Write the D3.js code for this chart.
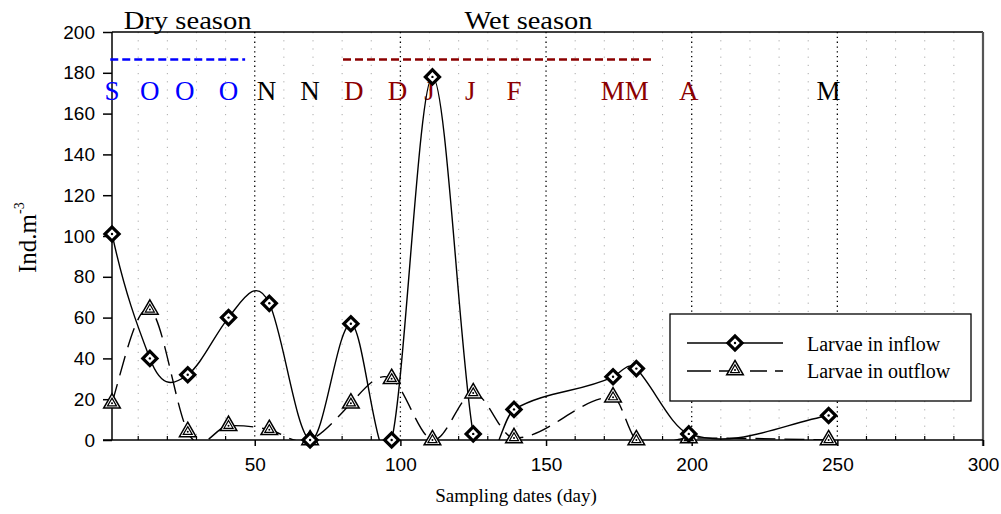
<!DOCTYPE html>
<html><head><meta charset="utf-8">
<script src="https://cdn.jsdelivr.net/npm/d3@7"></script>
<style>body{margin:0;background:#fff}svg{display:block}</style>
</head><body>
<svg id="c" width="1001" height="514"></svg>
<script>
// ---- data ----
const days = [1,14,27,41,55,69,83,97,111,125,139,173,181,199,247];
const inflow = [101,40,32,60,67,0,57,0,178,3,15,31,35,3,12];
const outflow = [18,64,4,7,5,0,18,30,0,23,1,21,0,1,0];
const monthLabels = ["S","O","O","O","N","N","D","D","J","J","F","MM","A","M"];
const monthDays = [1,14,26,41,54,69,84,99,110,124,139,177,199,247];
const monthColors = ["#0000ff","#0000ff","#0000ff","#0000ff","#000","#000","#8b0000","#8b0000","#8b0000","#8b0000","#8b0000","#8b0000","#8b0000","#000"];
const seasons = [
  {name:"Dry season", from:0.4, to:46.7, level:186.5, color:"#0000ff", labelDay:5},
  {name:"Wet season", from:80.3, to:186.4, level:186.5, color:"#8b0000", labelDay:122}
];
const yTicks = [0,20,40,60,80,100,120,140,160,180,200];
const xTicks = [50,100,150,200,250,300];
const xMinor = d3.range(10,300,10);

const svg = d3.select("#c");
const L=112,R=983,T=32,B=440;
const x = d3.scaleLinear().domain([1,300]).range([L,R]);
const y = d3.scaleLinear().domain([0,200]).range([B,T]);

// cubic Hermite spline in x, tangents from neighbouring secants
function splineX(context){
  let xs=[],ys=[];
  const k=1.4;
  return {
    areaStart(){},areaEnd(){},
    lineStart(){xs=[];ys=[];},
    point(a,b){xs.push(+a);ys.push(+b);},
    lineEnd(){
      const n=xs.length; if(!n) return;
      context.moveTo(xs[0],ys[0]);
      if(n<3){for(let i=1;i<n;i++)context.lineTo(xs[i],ys[i]);return;}
      const m=[];
      for(let i=0;i<n;i++){
        const i0=Math.max(0,i-1), i1=Math.min(n-1,i+1);
        m.push(k*(ys[i1]-ys[i0])/(xs[i1]-xs[i0]));
      }
      for(let i=0;i<n-1;i++){
        const hh=xs[i+1]-xs[i];
        context.bezierCurveTo(xs[i]+hh/3,ys[i]+m[i]*hh/3,xs[i+1]-hh/3,ys[i+1]-m[i+1]*hh/3,xs[i+1],ys[i+1]);
      }
    }
  };
}

svg.append("defs").append("clipPath").attr("id","clip").append("rect")
  .attr("x",L).attr("y",T).attr("width",R-L).attr("height",B-T);

// grid
svg.append("g").selectAll("line").data(xMinor.filter(d=>d%50!==0)).join("line")
  .attr("x1",d=>x(d)).attr("x2",d=>x(d)).attr("y1",T).attr("y2",B)
  .attr("stroke","#aaa").attr("stroke-width",1).attr("stroke-dasharray","1.2,7");
svg.append("g").selectAll("line").data([50,100,150,200,250]).join("line")
  .attr("x1",d=>x(d)).attr("x2",d=>x(d)).attr("y1",T).attr("y2",B)
  .attr("stroke","#000").attr("stroke-width",1.3).attr("stroke-dasharray","1.3,3.5");

// frame
svg.append("line").attr("x1",L).attr("x2",R).attr("y1",T).attr("y2",T).attr("stroke","#000").attr("stroke-width",1.5);
svg.append("line").attr("x1",R).attr("x2",R).attr("y1",T).attr("y2",B+6).attr("stroke","#555").attr("stroke-width",2.2);

// axes
const yAxis = d3.axisLeft(y).tickValues(yTicks).tickSize(9).tickPadding(8);
const gy = svg.append("g").attr("transform",`translate(${L},0)`).call(yAxis);
gy.select(".domain").attr("stroke-width",1.5).attr("d",`M0,${T}V${B}`);
gy.selectAll(".tick line").attr("stroke-width",1.5);
gy.selectAll("text").attr("font-family","Liberation Sans, Arial").attr("font-size",19).attr("fill","#000");

const gx = svg.append("g").attr("transform",`translate(0,${B})`);
gx.append("line").attr("x1",L-9).attr("x2",R).attr("stroke","#000").attr("stroke-width",1.5);
gx.selectAll(".minor").data(xMinor.filter(d=>d%50!==0)).join("line").attr("class","minor")
  .attr("x1",d=>x(d)).attr("x2",d=>x(d)).attr("y1",0).attr("y2",-4).attr("stroke","#000").attr("stroke-width",1.2);
const xAxis = d3.axisBottom(x).tickValues(xTicks).tickSize(6).tickPadding(12);
const gxa = gx.append("g").call(xAxis);
gxa.select(".domain").remove();
gxa.selectAll(".tick line").attr("stroke-width",1.5);
gxa.selectAll("text").attr("font-family","Liberation Sans, Arial").attr("font-size",19).attr("fill","#000");

// titles
svg.append("text").attr("x",x(150)-30).attr("y",502).attr("text-anchor","middle")
  .attr("font-family","Liberation Serif, serif").attr("font-size",19).text("Sampling dates (day)");
const yt = svg.append("text").attr("transform","translate(36,273) rotate(-90)")
  .attr("font-family","Liberation Serif, serif").attr("font-size",25);
yt.append("tspan").text("Ind.m");
yt.append("tspan").attr("font-size",14).attr("dy",-12).text("-3");

// seasons
seasons.forEach(s=>{
  svg.append("line").attr("x1",x(s.from)).attr("x2",x(s.to)).attr("y1",y(s.level)).attr("y2",y(s.level))
    .attr("stroke",s.color).attr("stroke-width",2.6).attr("stroke-dasharray","8,4");
  svg.append("text").attr("x",x(s.labelDay)).attr("y",29).attr("font-family","Liberation Serif, serif")
    .attr("font-size",26).attr("textLength",128).attr("lengthAdjust","spacingAndGlyphs").text(s.name);
});
svg.append("g").selectAll("text").data(monthLabels).join("text")
  .attr("x",(d,i)=>x(monthDays[i])).attr("y",100).attr("text-anchor","middle")
  .attr("font-family","Liberation Serif, serif").attr("font-size",27)
  .attr("fill",(d,i)=>monthColors[i]).text(d=>d);

// lines
const line = d3.line().x(d=>x(d[0])).y(d=>y(d[1])).curve(splineX);
const inPts = days.map((d,i)=>[d,inflow[i]]);
const outPts = days.map((d,i)=>[d,outflow[i]]);
const gl = svg.append("g").attr("clip-path","url(#clip)");
gl.append("path").attr("d",line(outPts)).attr("fill","none").attr("stroke","#000").attr("stroke-width",1.4).attr("stroke-dasharray","20,9");
gl.append("path").attr("d",line(inPts)).attr("fill","none").attr("stroke","#000").attr("stroke-width",1.4);

// markers
const sq = d3.symbol(d3.symbolSquare,100)();
const triBig = d3.symbol(d3.symbolTriangle,120)();
const triSmall = d3.symbol(d3.symbolTriangle,35)();
function diamond(g,cx,cy){
  const m=g.append("g").attr("transform",`translate(${cx},${cy})`);
  m.append("path").attr("d",sq).attr("transform","rotate(45)").attr("fill","#fff").attr("stroke","#000").attr("stroke-width",3.2);
  m.append("circle").attr("r",1.2).attr("fill","#000");
}
function triangle(g,cx,cy){
  const m=g.append("g").attr("transform",`translate(${cx},${cy})`);
  m.append("path").attr("d",triBig).attr("fill","#fff").attr("stroke","#000").attr("stroke-width",1.5);
  m.append("path").attr("d",triSmall).attr("fill","none").attr("stroke","#000").attr("stroke-width",1.2);
  m.append("circle").attr("r",1).attr("fill","#000");
}
const gm = svg.append("g");
outPts.forEach(p=>triangle(gm,x(p[0]),y(p[1])));
inPts.forEach(p=>diamond(gm,x(p[0]),y(p[1])));

// legend
const lg = svg.append("g");
lg.append("rect").attr("x",670).attr("y",314).attr("width",301).attr("height",87).attr("fill","#fff").attr("stroke","#000").attr("stroke-width",1.3);
lg.append("line").attr("x1",687).attr("x2",783).attr("y1",343).attr("y2",343).attr("stroke","#000").attr("stroke-width",1.4);
diamond(lg,735,343);
lg.append("line").attr("x1",687).attr("x2",783).attr("y1",371).attr("y2",371).attr("stroke","#000").attr("stroke-width",1.4).attr("stroke-dasharray","24,8,17,14,17,8,24");
triangle(lg,735,370);
lg.append("text").attr("x",807).attr("y",351).attr("font-family","Liberation Serif, serif").attr("font-size",20).text("Larvae in inflow");
lg.append("text").attr("x",807).attr("y",378).attr("font-family","Liberation Serif, serif").attr("font-size",20).text("Larvae in outflow");
</script>
</body></html>
